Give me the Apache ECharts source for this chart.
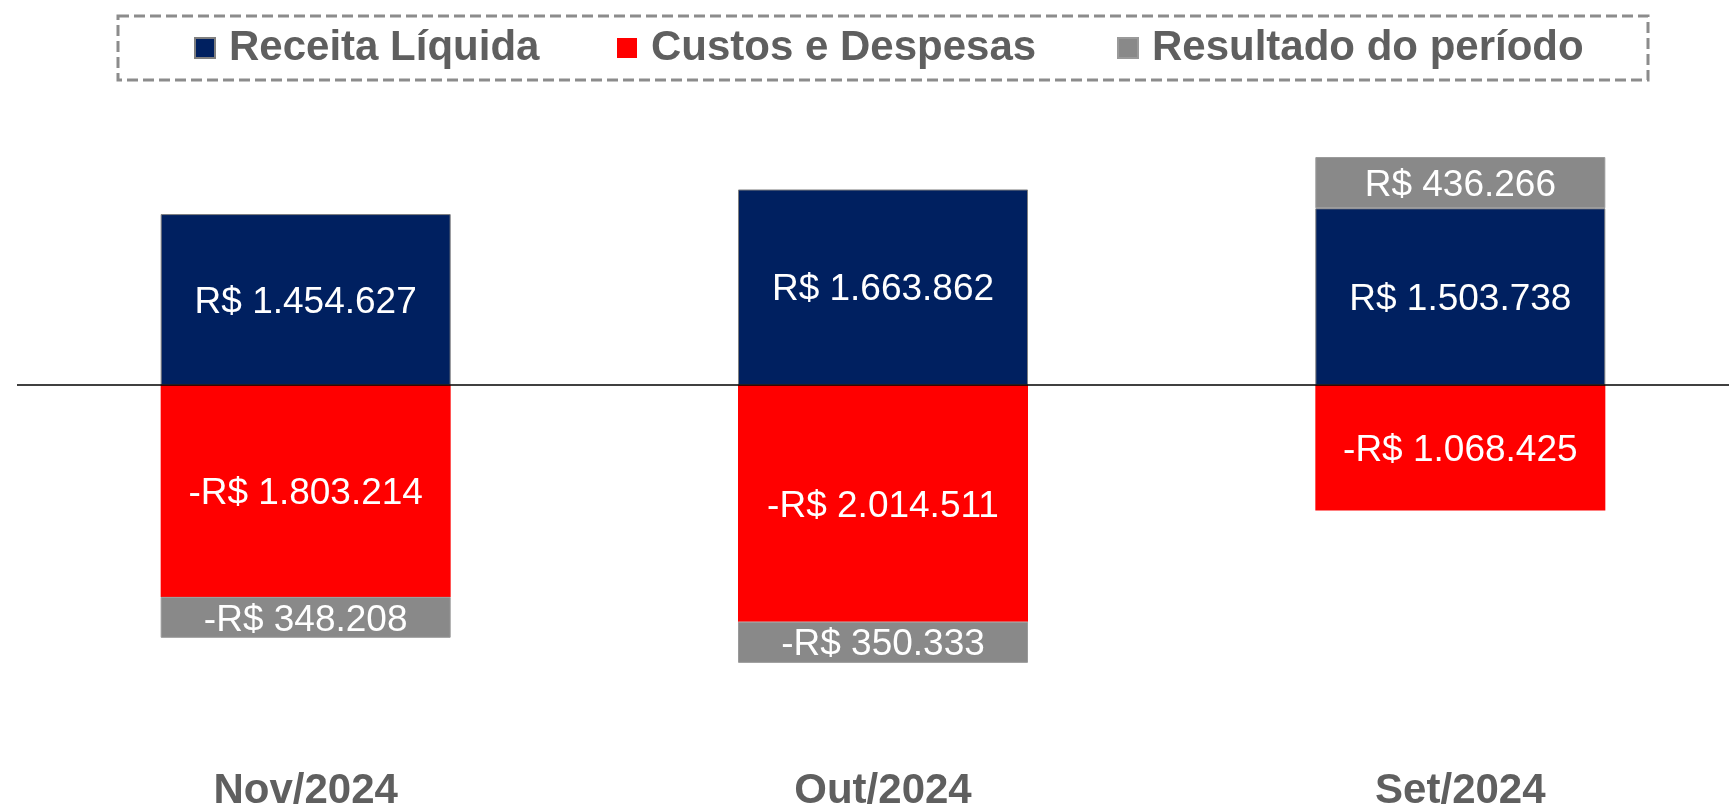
<!DOCTYPE html>
<html>
<head>
<meta charset="utf-8">
<script src="https://cdn.jsdelivr.net/npm/echarts@6/dist/echarts.min.js"></script>
<style>
  html, body { margin: 0; padding: 0; background: #fff; }
  #chart { width: 1729px; height: 806px; }
</style>
</head>
<body>
<div id="chart"></div>
<script>
const categories = ['Nov/2024', 'Out/2024', 'Set/2024'];
const receita = [1454627, 1663862, 1503738];
const custos = [-1803214, -2014511, -1068425];
const resultado = [-348208, -350333, 436266];

const names = ['Receita Líquida', 'Custos e Despesas', 'Resultado do período'];

function brl(v) {
  const s = Math.abs(Math.round(v)).toString().replace(/\B(?=(\d{3})+(?!\d))/g, '.');
  return (v < 0 ? '-R$ ' : 'R$ ') + s;
}

const labelStyle = {
  show: true,
  position: 'inside',
  offset: [0, 3],
  color: '#ffffff',
  fontSize: 37,
  fontFamily: '"Liberation Sans", Arial, sans-serif',
  formatter: (p) => brl(p.value),
};

const legendText = {
  color: '#5f5f5f',
  fontSize: 42,
  lineHeight: 42,
  fontWeight: 'bold',
  fontFamily: '"Liberation Sans", Arial, sans-serif',
  padding: [0, 0, 0, 9],
};

function legendAt(name, left) {
  return {
    data: [name],
    left: left,
    top: 27,
    icon: 'rect',
    itemWidth: 20,
    itemHeight: 20,
    itemGap: 0,
    padding: 0,
    selectedMode: false,
    textStyle: legendText,
  };
}

const chart = echarts.init(document.getElementById('chart'));

chart.setOption({
  animation: false,
  legend: [
    legendAt(names[0], 194),
    legendAt(names[1], 617),
    legendAt(names[2], 1117),
  ],
  graphic: [
    {
      type: 'rect',
      shape: { x: 118, y: 16, width: 1530, height: 64 },
      style: {
        fill: 'none',
        stroke: '#8c8c8c',
        lineWidth: 3,
        lineDash: [11, 5],
      },
      silent: true,
    },
  ],
  grid: {
    left: 17,
    width: 1732,
    top: 103,
    height: 564,
    containLabel: false,
    outerBoundsMode: 'none',
  },
  xAxis: {
    type: 'category',
    data: categories,
    axisLine: { show: false },
    axisTick: { show: false },
    axisLabel: {
      margin: 124,
      verticalAlign: 'middle',
      color: '#5f5f5f',
      fontSize: 42,
      fontWeight: 'bold',
      fontFamily: '"Liberation Sans", Arial, sans-serif',
    },
  },
  yAxis: {
    type: 'value',
    show: false,
    min: -2400000,
    max: 2400000,
    splitLine: { show: false },
  },
  series: [
    {
      name: names[0],
      type: 'bar',
      stack: 'total',
      barWidth: 290,
      data: receita,
      itemStyle: { color: '#002060', borderColor: '#7f7f7f', borderWidth: 1 },
      label: labelStyle,
    },
    {
      name: names[1],
      type: 'bar',
      stack: 'total',
      barWidth: 290,
      data: custos,
      itemStyle: { color: '#ff0000' },
      label: labelStyle,
    },
    {
      name: names[2],
      type: 'bar',
      stack: 'total',
      barWidth: 290,
      data: resultado,
      itemStyle: { color: '#898989', borderColor: '#9a9a9a', borderWidth: 1 },
      label: labelStyle,
      markLine: {
        silent: true,
        symbol: 'none',
        label: { show: false },
        lineStyle: { color: '#000000', width: 1.5, type: 'solid' },
        data: [{ yAxis: 0 }],
      },
    },
  ],
});
</script>
</body>
</html>
